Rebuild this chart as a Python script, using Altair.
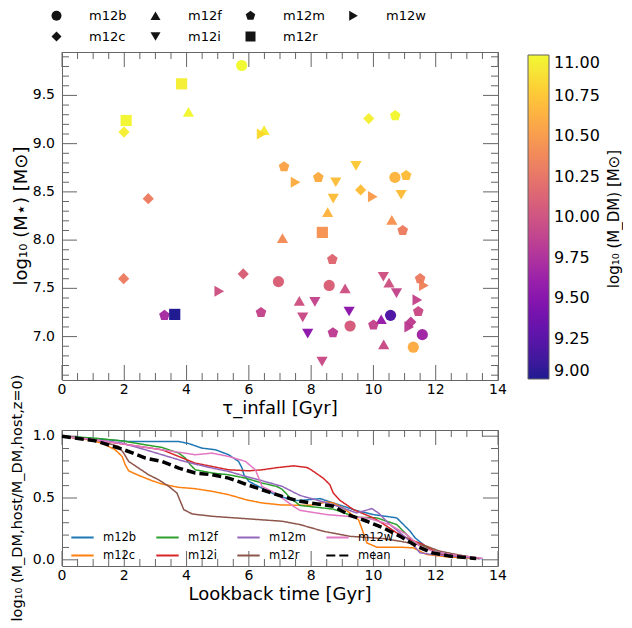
import altair as alt
import pandas as pd

FONT = "DejaVu Sans"
TICK = "#666666"

# ---------------- scatter data: tau_infall [Gyr], log10 M_star, log10 M_DM ----------------
m12b_tau = [5.77, 10.69, 6.95, 8.58, 9.25, 10.55, 11.57, 11.28]
m12b_mstar = [9.81, 8.65, 7.57, 7.53, 7.11, 7.22, 7.02, 6.89]
m12b_mdm = [11.0, 10.65, 10.1, 10.1, 10.05, 9.2, 9.65, 10.6]

m12c_tau = [1.99, 9.85, 2.77, 9.59, 1.98, 5.82, 11.2]
m12c_mstar = [9.12, 9.26, 8.43, 8.52, 7.60, 7.65, 7.15]
m12c_mdm = [10.95, 10.95, 10.3, 10.7, 10.3, 10.1, 9.85]

m12f_tau = [4.06, 6.49, 8.53, 7.08, 10.59, 9.09, 7.62, 10.50, 10.25, 10.33]
m12f_mstar = [9.33, 9.14, 8.29, 8.02, 8.21, 7.50, 7.37, 7.56, 7.18, 6.92]
m12f_mdm = [10.98, 10.92, 10.65, 10.4, 10.45, 10.0, 10.0, 10.0, 9.6, 9.95]

m12i_tau = [9.44, 8.79, 8.71, 10.89, 8.12, 7.73, 7.89, 9.22, 8.35, 10.32, 10.74]
m12i_mstar = [8.77, 8.60, 8.43, 8.47, 7.36, 7.20, 7.03, 7.26, 6.74, 7.62, 7.45]
m12i_mdm = [10.75, 10.7, 10.7, 10.7, 9.9, 9.95, 9.55, 9.55, 9.95, 10.0, 9.9]

m12m_tau = [10.70, 7.13, 8.23, 11.05, 10.94, 8.68, 6.39, 3.29, 8.70, 10.0, 11.50, 11.44]
m12m_mstar = [9.29, 8.76, 8.65, 8.67, 8.10, 7.80, 7.25, 7.22, 7.04, 7.12, 7.60, 7.26]
m12m_mdm = [10.98, 10.55, 10.6, 10.7, 10.3, 10.15, 9.9, 9.7, 9.85, 9.9, 10.3, 9.95]

m12r_tau = [3.84, 2.06, 8.36, 3.62]
m12r_mstar = [9.62, 9.24, 8.08, 7.23]
m12r_mdm = [10.95, 10.98, 10.45, 9.0]

m12w_tau = [6.41, 7.50, 9.98, 5.05, 11.41, 11.62, 11.15]
m12w_mstar = [9.10, 8.60, 8.45, 7.47, 7.38, 7.53, 7.10]
m12w_mdm = [10.85, 10.6, 10.5, 10.0, 9.9, 10.35, 9.85]

# ---------------- host DM growth: lookback time [Gyr], normalised mass ----------------
m12b_t = [0, 1.07, 2.14, 3.2, 3.75, 4.07, 4.5, 4.93, 5.35, 5.67, 5.78, 5.84, 6.0, 6.42, 6.85, 7.43, 7.64, 8.29, 8.71, 9.46, 10.0, 10.75, 11.18, 11.34, 11.6, 11.9, 12.45, 13.3, 13.5]
m12b_v = [1.0, 0.98, 0.957, 0.957, 0.957, 0.94, 0.903, 0.89, 0.85, 0.796, 0.742, 0.688, 0.634, 0.58, 0.527, 0.48, 0.48, 0.495, 0.46, 0.398, 0.366, 0.339, 0.231, 0.177, 0.124, 0.07, 0.03, 0.011, 0.01]

m12c_t = [0, 0.86, 1.28, 1.71, 1.93, 2.03, 2.14, 2.46, 2.89, 3.21, 3.75, 4.28, 4.82, 5.35, 5.89, 6.42, 7.07, 7.97, 8.5, 8.71, 9.03, 9.52, 9.62, 9.79, 10.11, 10.85, 11.28, 11.71, 12.45, 13.4]
m12c_v = [1.0, 0.97, 0.944, 0.89, 0.836, 0.769, 0.72, 0.683, 0.64, 0.613, 0.586, 0.575, 0.554, 0.527, 0.487, 0.46, 0.443, 0.441, 0.468, 0.46, 0.419, 0.325, 0.258, 0.137, 0.102, 0.102, 0.097, 0.043, 0.022, 0.011]

m12f_t = [0, 1.07, 1.93, 2.68, 3.21, 3.75, 3.96, 4.12, 4.28, 4.82, 5.35, 5.89, 6.42, 6.89, 7.07, 7.33, 7.64, 8.71, 9.46, 10.11, 10.75, 11.28, 11.9, 12.45, 13.4]
m12f_v = [1.0, 0.984, 0.962, 0.93, 0.909, 0.863, 0.823, 0.769, 0.728, 0.702, 0.688, 0.661, 0.621, 0.594, 0.57, 0.5, 0.44, 0.41, 0.344, 0.339, 0.285, 0.15, 0.075, 0.038, 0.011]

m12i_t = [0, 1.07, 2.14, 3.21, 3.75, 4.28, 4.82, 5.35, 6.0, 6.42, 6.89, 7.43, 7.86, 8.0, 8.39, 8.6, 8.71, 8.93, 9.36, 10.0, 10.32, 10.75, 11.18, 11.6, 12.13, 13.4]
m12i_v = [1.0, 0.97, 0.93, 0.89, 0.836, 0.782, 0.755, 0.728, 0.72, 0.728, 0.745, 0.76, 0.747, 0.728, 0.66, 0.608, 0.54, 0.48, 0.406, 0.339, 0.29, 0.218, 0.164, 0.124, 0.043, 0.011]

m12m_t = [0, 1.07, 1.93, 2.68, 3.21, 3.75, 4.28, 4.82, 5.35, 5.89, 6.42, 7.07, 7.64, 8.71, 9.46, 9.95, 10.16, 10.53, 10.86, 11.18, 11.5, 11.9, 12.56, 13.4]
m12m_v = [1.0, 0.97, 0.944, 0.89, 0.85, 0.809, 0.774, 0.742, 0.715, 0.675, 0.64, 0.594, 0.521, 0.446, 0.379, 0.414, 0.379, 0.285, 0.218, 0.15, 0.056, 0.043, 0.03, 0.011]

m12r_t = [0, 1.07, 1.82, 1.98, 2.14, 2.46, 2.78, 3.1, 3.43, 3.69, 3.8, 3.91, 4.18, 4.82, 5.89, 7.07, 7.64, 8.39, 9.25, 10.32, 10.86, 11.71, 12.13, 12.67, 13.4]
m12r_v = [1.0, 0.97, 0.917, 0.863, 0.796, 0.742, 0.688, 0.648, 0.594, 0.54, 0.473, 0.406, 0.371, 0.352, 0.333, 0.312, 0.285, 0.231, 0.19, 0.172, 0.15, 0.11, 0.07, 0.043, 0.011]

m12w_t = [0, 1.07, 2.14, 3.21, 3.75, 4.28, 4.82, 5.35, 5.89, 6.21, 6.32, 6.42, 6.85, 7.43, 7.64, 8.5, 9.79, 10.53, 11.07, 11.5, 11.9, 12.45, 13.5]
m12w_v = [1.0, 0.97, 0.93, 0.89, 0.87, 0.85, 0.863, 0.836, 0.796, 0.728, 0.661, 0.594, 0.54, 0.433, 0.4, 0.366, 0.339, 0.285, 0.204, 0.11, 0.07, 0.043, 0.011]

mean_t = [0, 1.07, 1.93, 2.68, 3.21, 3.75, 4.28, 4.82, 5.35, 5.89, 6.42, 7.07, 7.64, 8.71, 9.25, 9.79, 10.32, 10.86, 11.39, 11.9, 12.45, 13.3]
mean_v = [1.0, 0.962, 0.896, 0.823, 0.796, 0.742, 0.702, 0.688, 0.661, 0.613, 0.567, 0.513, 0.473, 0.433, 0.36, 0.312, 0.258, 0.19, 0.11, 0.056, 0.03, 0.011]

# ---------------- ticks, tick labels and titles ----------------
x_major = [0, 2, 4, 6, 8, 10, 12, 14]
x_labels = ["0", "2", "4", "6", "8", "10", "12", "14"]
x_minor = [0.5, 1, 1.5, 2.5, 3, 3.5, 4.5, 5, 5.5, 6.5, 7, 7.5, 8.5, 9, 9.5, 10.5, 11, 11.5, 12.5, 13, 13.5]
y1_major = [7.0, 7.5, 8.0, 8.5, 9.0, 9.5]
y1_labels = ["7.0", "7.5", "8.0", "8.5", "9.0", "9.5"]
y1_minor = [6.6, 6.7, 6.8, 6.9, 7.1, 7.2, 7.3, 7.4, 7.6, 7.7, 7.8, 7.9, 8.1, 8.2, 8.3, 8.4,
            8.6, 8.7, 8.8, 8.9, 9.1, 9.2, 9.3, 9.4, 9.6, 9.7, 9.8, 9.9]
y2_major = [0.0, 0.5, 1.0]
y2_labels = ["0.0", "0.5", "1.0"]
y2_minor = [0.1, 0.2, 0.3, 0.4, 0.6, 0.7, 0.8, 0.9]
cbar_values = [9.0, 9.25, 9.5, 9.75, 10.0, 10.25, 10.5, 10.75, 11.0]
cbar_title = ["log₁₀ (M_DM) [M⊙]"]
x1_title = ["τ_infall [Gyr]"]
y1_title = ["log₁₀ (M⋆) [M⊙]"]
x2_title = ["Lookback time [Gyr]"]
y2_title = ["log₁₀ (M_DM,host/M_DM,host,z=0)"]

# ---------------- tables ----------------
scatter_rows = []
for name, taus, ms, md in [
    ("m12b", m12b_tau, m12b_mstar, m12b_mdm),
    ("m12c", m12c_tau, m12c_mstar, m12c_mdm),
    ("m12f", m12f_tau, m12f_mstar, m12f_mdm),
    ("m12i", m12i_tau, m12i_mstar, m12i_mdm),
    ("m12m", m12m_tau, m12m_mstar, m12m_mdm),
    ("m12r", m12r_tau, m12r_mstar, m12r_mdm),
    ("m12w", m12w_tau, m12w_mstar, m12w_mdm),
]:
    for a, b, c in zip(taus, ms, md):
        scatter_rows.append({"sim": name, "tau": a, "mstar": b, "mdm": c})
scatter_df = pd.DataFrame(scatter_rows)

line_rows = []
for name, ts, vs in [
    ("m12b", m12b_t, m12b_v), ("m12c", m12c_t, m12c_v), ("m12f", m12f_t, m12f_v),
    ("m12i", m12i_t, m12i_v), ("m12m", m12m_t, m12m_v), ("m12r", m12r_t, m12r_v),
    ("m12w", m12w_t, m12w_v),
]:
    for a, b in zip(ts, vs):
        line_rows.append({"sim": name, "t": a, "v": b})
line_df = pd.DataFrame(line_rows)
mean_df = pd.DataFrame({"sim": ["mean"] * len(mean_t), "t": mean_t, "v": mean_v})

W, H1, H2 = 436, 328, 136
MAJ, MIN = 15, 7

X_DOM = [0, 14]
Y1_DOM = [6.55, 9.95]
Y2_DOM = [-0.05, 1.05]
x_scale = alt.Scale(domain=X_DOM, nice=False, zero=False)
y1_scale = alt.Scale(domain=Y1_DOM, nice=False, zero=False)
y2_scale = alt.Scale(domain=Y2_DOM, nice=False, zero=False)


def tick_segments(xfield, yfield, ydom, h, xmaj, xmin, ymaj, ymin):
    """Inward tick segments (tick value -> two end points) on all four sides of the frame."""
    ux = (X_DOM[1] - X_DOM[0]) / W
    uy = (ydom[1] - ydom[0]) / h
    rows, g = [], 0
    for vals, ln in [(xmaj, MAJ), (xmin, MIN)]:
        for v in vals:
            for edge, sgn in [(ydom[0], 1), (ydom[1], -1)]:
                rows.append({"g": g, xfield: v, yfield: edge})
                rows.append({"g": g, xfield: v, yfield: edge + sgn * ln * uy})
                g += 1
    for vals, ln in [(ymaj, MAJ), (ymin, MIN)]:
        for v in vals:
            for edge, sgn in [(X_DOM[0], 1), (X_DOM[1], -1)]:
                rows.append({"g": g, xfield: edge, yfield: v})
                rows.append({"g": g, xfield: edge + sgn * ln * ux, yfield: v})
                g += 1
    return pd.DataFrame(rows)


def frame_layers(xfield, yfield, yscale, ydom, xmaj, xlab, xmin, ymaj, ylab, ymin, h,
                 xtitle, ytitle, ytitle_x, ytitle_size):
    layers = []
    seg = tick_segments(xfield, yfield, ydom, h, xmaj, xmin, ymaj, ymin)
    layers.append(alt.Chart(seg).mark_line(color=TICK, strokeWidth=1, opacity=1).encode(
        x=alt.X(f"{xfield}:Q", scale=x_scale, axis=None),
        y=alt.Y(f"{yfield}:Q", scale=yscale, axis=None),
        detail="g:N"))
    # tick labels
    layers.append(alt.Chart(pd.DataFrame({xfield: xmaj, "lab": xlab})).mark_text(
        font=FONT, fontSize=14, color="black", align="center", baseline="middle").encode(
        x=alt.X(f"{xfield}:Q", scale=x_scale, axis=None), y=alt.value(h + 10), text="lab:N"))
    layers.append(alt.Chart(pd.DataFrame({yfield: ymaj, "lab": ylab})).mark_text(
        font=FONT, fontSize=14, color="black", align="right", baseline="middle").encode(
        y=alt.Y(f"{yfield}:Q", scale=yscale, axis=None), x=alt.value(-7), text="lab:N"))
    # titles
    layers.append(alt.Chart(pd.DataFrame({"lab": xtitle})).mark_text(
        font=FONT, fontSize=18, color="black", align="center", baseline="middle").encode(
        x=alt.value(W / 2), y=alt.value(h + 29), text="lab:N"))
    layers.append(alt.Chart(pd.DataFrame({"lab": ytitle})).mark_text(
        font=FONT, fontSize=ytitle_size, color="black", align="center", baseline="middle", angle=270).encode(
        x=alt.value(ytitle_x), y=alt.value(h / 2), text="lab:N"))
    return layers


PENTAGON = "M0,-1L0.951,-0.309L0.588,0.809L-0.588,0.809L-0.951,-0.309Z"
shape_domain = ["m12b", "m12f", "m12m", "m12w", "m12c", "m12i", "m12r"]
shape_range = ["circle", "triangle-up", PENTAGON, "triangle-right", "diamond", "triangle-down", "square"]

points = alt.Chart(scatter_df).mark_point(filled=True, size=125, opacity=0.92, strokeWidth=0).encode(
    x=alt.X("tau:Q", scale=x_scale, axis=None),
    y=alt.Y("mstar:Q", scale=y1_scale, axis=None),
    color=alt.Color("mdm:Q", scale=alt.Scale(scheme="plasma", domain=[9, 11], clamp=True),
                    legend=alt.Legend(orient="none", legendX=W + 30, legendY=3, direction="vertical",
                                      gradientLength=324, gradientThickness=21, values=cbar_values,
                                      format=".2f", labelFontSize=16, labelFont=FONT, labelColor="black",
                                      labelOffset=5, gradientStrokeColor="#555", gradientStrokeWidth=1,
                                      title=None)),
    shape=alt.Shape("sim:N", scale=alt.Scale(domain=shape_domain, range=shape_range),
                    legend=alt.Legend(title=None, orient="none", legendX=-12, legendY=-43,
                                      direction="horizontal", columns=4, columnPadding=22, rowPadding=7,
                                      symbolSize=100, symbolFillColor="black", symbolStrokeColor="black",
                                      symbolStrokeWidth=0, labelFontSize=13, labelFont=FONT,
                                      labelColor="black", labelOffset=26)),
)

cbar_label = alt.Chart(pd.DataFrame({"label": cbar_title})).mark_text(
    angle=270, fontSize=15, font=FONT, color="black", baseline="middle", align="center"
).encode(text="label:N", x=alt.value(W + 116), y=alt.value(H1 / 2 + 3))

top = alt.layer(
    *frame_layers("tau", "mstar", y1_scale, Y1_DOM, x_major, x_labels, x_minor, y1_major, y1_labels, y1_minor,
                  H1, x1_title, y1_title, -40, 18),
    cbar_label, points).properties(width=W, height=H1)

line_domain = ["m12b", "m12f", "m12m", "m12w", "m12c", "m12i", "m12r", "mean"]
line_colors = ["#1f77b4", "#2ca02c", "#9467bd", "#e377c2", "#ff7f0e", "#d62728", "#8c564b", "#000000"]
line_dash = [[1, 0]] * 7 + [[9, 4]]

leg2 = alt.Legend(title=None, orient="none", legendX=8, legendY=95, direction="horizontal", columns=4,
                  columnPadding=15, rowPadding=-2, symbolType="stroke", symbolSize=500,
                  symbolStrokeWidth=1.8,
                  labelFontSize=11.5, labelFont=FONT, labelColor="black", labelOffset=8)


def line_enc(ch):
    return ch.encode(
        x=alt.X("t:Q", scale=x_scale, axis=None),
        y=alt.Y("v:Q", scale=y2_scale, axis=None),
        color=alt.Color("sim:N", scale=alt.Scale(domain=line_domain, range=line_colors), legend=leg2),
        strokeDash=alt.StrokeDash("sim:N", scale=alt.Scale(domain=line_domain, range=line_dash), legend=leg2),
        order=alt.Order("t:Q"),
    )


lines = line_enc(alt.Chart(line_df).mark_line(strokeWidth=1.5))
mean_line = line_enc(alt.Chart(mean_df).mark_line(strokeWidth=3.5))

bottom = alt.layer(
    *frame_layers("t", "v", y2_scale, Y2_DOM, x_major, x_labels, x_minor, y2_major, y2_labels, y2_minor,
                  H2, x2_title, y2_title, -44, 14.5),
    lines, mean_line).properties(width=W, height=H2)

chart = alt.vconcat(top, bottom, spacing=50, bounds="flush").resolve_scale(
    color="independent", shape="independent", strokeDash="independent"
).resolve_legend(
    color="independent", shape="independent", strokeDash="independent"
).properties(
    padding={"left": 1, "top": 0, "right": 0, "bottom": 0}
).configure_view(stroke="#666666", strokeWidth=1)

chart.save("out.html", embed_options={"renderer": "svg", "actions": False})
